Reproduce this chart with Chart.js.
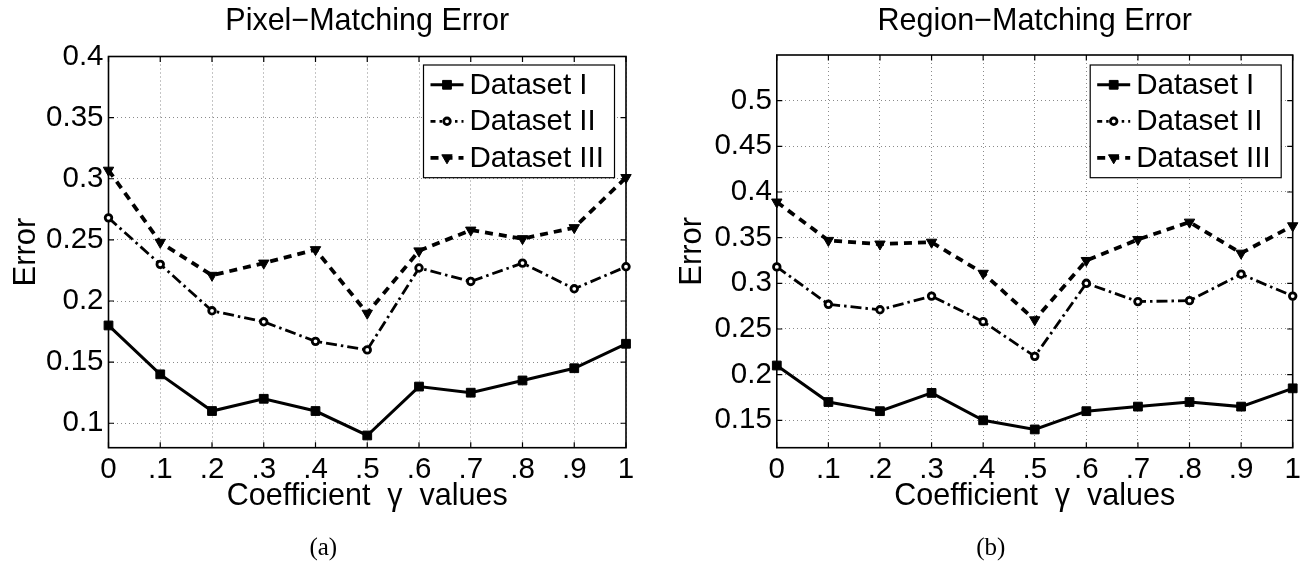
<!DOCTYPE html>
<html><head><meta charset="utf-8">
<script src="https://cdn.jsdelivr.net/npm/chart.js@4.4.0/dist/chart.umd.min.js"></script>
<style>
html,body{margin:0;padding:0;background:#fff;overflow:hidden}
#wrap{position:relative;width:1307px;height:561px;background:#fff}
canvas{position:absolute;top:0}
</style></head>
<body><div id="wrap">
<canvas id="c1" width="653" height="561" style="left:0px"></canvas>
<canvas id="c2" width="654" height="561" style="left:653px"></canvas>
</div>
<script>
// ---- data ----
const gammaLabels = ['0', '.1', '.2', '.3', '.4', '.5', '.6', '.7', '.8', '.9', '1'];
const seriesNames = ['Dataset I', 'Dataset II', 'Dataset III'];

const pixelD1 = [0.180, 0.140, 0.110, 0.120, 0.110, 0.090, 0.130, 0.125, 0.135, 0.145, 0.165];
const pixelD2 = [0.268, 0.230, 0.192, 0.183, 0.167, 0.160, 0.227, 0.216, 0.231, 0.210, 0.228];
const pixelD3 = [0.307, 0.248, 0.221, 0.231, 0.242, 0.190, 0.241, 0.258, 0.251, 0.260, 0.301];

const regionD1 = [0.210, 0.170, 0.160, 0.180, 0.150, 0.140, 0.160, 0.165, 0.170, 0.165, 0.185];
const regionD2 = [0.318, 0.277, 0.271, 0.286, 0.258, 0.220, 0.300, 0.280, 0.281, 0.310, 0.286];
const regionD3 = [0.389, 0.347, 0.343, 0.345, 0.311, 0.260, 0.325, 0.348, 0.367, 0.333, 0.363];

const pixelTicks = [0.1, 0.15, 0.2, 0.25, 0.3, 0.35, 0.4];
const regionTicks = [0.15, 0.2, 0.25, 0.3, 0.35, 0.4, 0.45, 0.5];

const FONT = '"Liberation Sans", Arial, Helvetica, sans-serif';

const decor = {
  id: 'decor',
  beforeDraw(chart) {
    const ctx = chart.ctx;
    ctx.save();
    ctx.fillStyle = '#fff';
    ctx.fillRect(0, 0, chart.width, chart.height);
    ctx.restore();
  },
  beforeDatasetsDraw(chart) {
    const {ctx, chartArea: a, scales: {x, y}} = chart;
    ctx.save();
    ctx.setLineDash([]);
    ctx.strokeStyle = '#000';
    ctx.lineWidth = 1.6;
    ctx.strokeRect(a.left, a.top, a.right - a.left, a.bottom - a.top);
    ctx.lineWidth = 1.2;
    const tl = 5.5;
    ctx.beginPath();
    x.ticks.forEach((t, i) => {
      const px = x.getPixelForTick(i);
      ctx.moveTo(px, a.bottom); ctx.lineTo(px, a.bottom - tl);
      ctx.moveTo(px, a.top); ctx.lineTo(px, a.top + tl);
    });
    y.ticks.forEach((t, i) => {
      const py = y.getPixelForTick(i);
      ctx.moveTo(a.left, py); ctx.lineTo(a.left + tl, py);
      ctx.moveTo(a.right, py); ctx.lineTo(a.right - tl, py);
    });
    ctx.stroke();
    ctx.restore();
  },
  afterDraw(chart, args, o) {
    const {ctx, chartArea: a} = chart;
    ctx.save();
    const cx = (a.left + a.right) / 2;
    // title
    ctx.fillStyle = '#000';
    ctx.font = '30.5px ' + FONT;
    ctx.textAlign = 'center';
    ctx.textBaseline = 'alphabetic';
    ctx.fillText(o.title, cx, 30);
    // caption
    ctx.font = '25px "Liberation Serif", "Times New Roman", serif';
    ctx.textBaseline = 'middle';
    ctx.fillText(o.caption, cx - 44, 548);
    // legend
    const bw = 191, bh = 112.7;
    const bx = a.right - 11.5 - bw, by = 65;
    ctx.setLineDash([]);
    ctx.fillStyle = '#fff';
    ctx.fillRect(bx, by, bw, bh);
    ctx.strokeStyle = '#000';
    ctx.lineWidth = 1.2;
    ctx.strokeRect(bx, by, bw, bh);
    chart.data.datasets.forEach((ds, i) => {
      const ry = by + 19.8 + i * 36.5;
      ctx.save();
      ctx.strokeStyle = '#000';
      ctx.lineWidth = ds.borderWidth;
      ctx.setLineDash(ds.legendDash || ds.borderDash || []);
      ctx.beginPath();
      ctx.moveTo(bx + 7, ry);
      ctx.lineTo(bx + 40, ry);
      ctx.stroke();
      ctx.setLineDash([]);
      ctx.fillStyle = ds.pointBackgroundColor;
      ctx.strokeStyle = ds.pointBorderColor;
      ctx.lineWidth = ds.pointBorderWidth;
      Chart.helpers.drawPoint(ctx, {
        pointStyle: ds.pointStyle, radius: ds.pointRadius,
        rotation: ds.pointRotation || 0, borderWidth: ds.pointBorderWidth
      }, bx + 23.5, ry);
      ctx.restore();
      ctx.fillStyle = '#000';
      ctx.font = '29.5px ' + FONT;
      ctx.textAlign = 'left';
      ctx.textBaseline = 'middle';
      ctx.fillText(ds.label, bx + 46, ry + 1);
    });
    ctx.restore();
  }
};

function makeDatasets(d1, d2, d3) {
  return [
    {
      label: seriesNames[0], data: d1,
      borderColor: '#000', borderWidth: 3, borderDash: [],
      pointStyle: 'rect', pointRadius: 6.2, pointBackgroundColor: '#000',
      pointBorderColor: '#000', pointBorderWidth: 1, tension: 0, clip: false
    },
    {
      label: seriesNames[1], data: d2,
      borderColor: '#000', borderWidth: 2.8, borderDash: [11, 4, 2.5, 4],
      legendDash: [5, 4, 2.5, 4],
      pointStyle: 'circle', pointRadius: 3.3, pointBackgroundColor: '#fff',
      pointBorderColor: '#000', pointBorderWidth: 2.8, tension: 0, clip: false
    },
    {
      label: seriesNames[2], data: d3,
      borderColor: '#000', borderWidth: 3.8, borderDash: [8, 6],
      pointStyle: 'triangle', pointRotation: 180, pointRadius: 6,
      pointBackgroundColor: '#000', pointBorderColor: '#000', pointBorderWidth: 1,
      tension: 0, clip: false
    }
  ];
}

function makeChart(id, cfg) {
  const canvas = document.getElementById(id);
  const W = canvas.width, H = canvas.height;
  const pb = 30;
  return new Chart(canvas, {
    type: 'line',
    data: { labels: gammaLabels, datasets: makeDatasets(cfg.d1, cfg.d2, cfg.d3) },
    options: {
      responsive: false, animation: false, devicePixelRatio: 1,
      layout: { padding: { top: cfg.top, left: 0, right: W - cfg.right, bottom: pb } },
      plugins: {
        legend: { display: false }, tooltip: { enabled: false }, title: { display: false },
        decor: { title: cfg.title, caption: cfg.caption }
      },
      elements: { line: { borderJoinStyle: 'miter' } },
      scales: {
        x: {
          type: 'category', offset: false,
          grid: { color: '#8a8a8a', lineWidth: 1, drawTicks: false },
          border: { display: false, dash: [1, 3] },
          ticks: { color: '#000', font: { family: FONT, size: 29.5 }, padding: 4, maxRotation: 0, autoSkip: false },
          title: { display: true, text: 'Coefficient  \u03b3  values', color: '#000',
                   font: { family: FONT, size: 30.5 }, padding: { top: 0, bottom: 16 } },
          afterFit: s => { s.height = H - pb - 447.7; }
        },
        y: {
          min: cfg.yMin, max: cfg.yMax,
          grid: { color: '#8a8a8a', lineWidth: 1, drawTicks: false },
          border: { display: false, dash: [1, 3] },
          afterBuildTicks: s => { s.ticks = cfg.ticks.map(v => ({ value: v })); },
          ticks: { color: '#000', font: { family: FONT, size: 29.5 }, padding: 5,
                   callback: v => String(Math.round(v * 100) / 100) },
          title: { display: true, text: 'Error', color: '#000',
                   font: { family: FONT, size: 31 }, padding: { top: cfg.yTitlePad, bottom: 0 } },
          afterFit: s => { s.width = cfg.left; }
        }
      }
    },
    plugins: [decor]
  });
}

makeChart('c1', {
  d1: pixelD1, d2: pixelD2, d3: pixelD3, ticks: pixelTicks,
  yMin: 0.08, yMax: 0.4, left: 108.5, right: 626, top: 56.5,
  yTitlePad: 8, title: 'Pixel\u2212Matching Error', caption: '(a)'
});
makeChart('c2', {
  d1: regionD1, d2: regionD2, d3: regionD3, ticks: regionTicks,
  yMin: 0.12, yMax: 0.55, left: 123.8, right: 639.7, top: 55,
  yTitlePad: 21, title: 'Region\u2212Matching Error', caption: '(b)'
});
</script>
</body></html>
